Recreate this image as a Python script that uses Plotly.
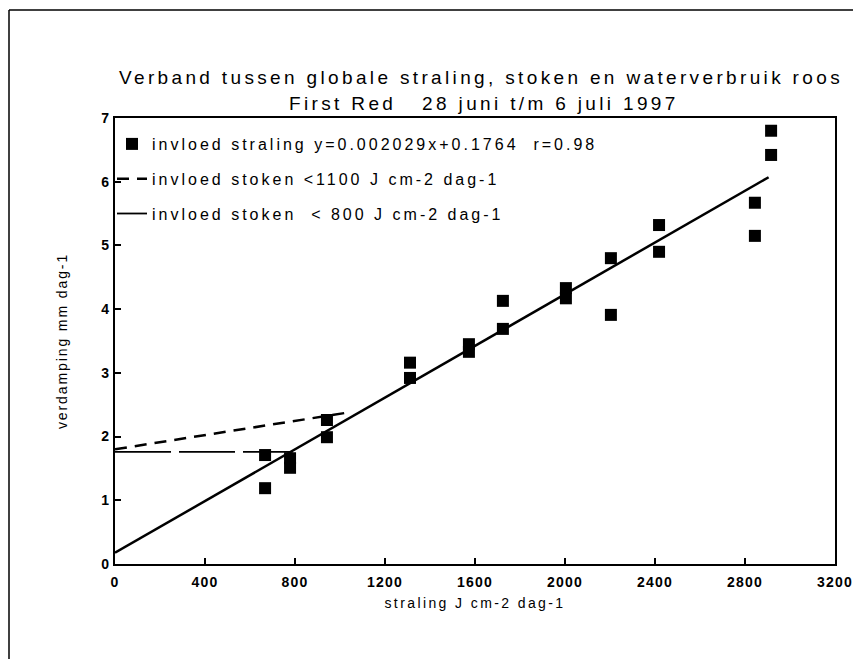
import plotly.graph_objects as go

# Data
straling = [667, 667, 778, 778, 942, 942, 1311, 1311, 1573, 1573, 1724, 1724,
            2004, 2004, 2204, 2204, 2418, 2418, 2844, 2844, 2916, 2916]
verdamping = [1.71, 1.19, 1.66, 1.51, 2.26, 1.99, 3.16, 2.92, 3.45, 3.33, 4.13, 3.69,
              4.33, 4.17, 4.80, 3.91, 5.32, 4.90, 5.67, 5.15, 6.80, 6.42]

slope = 0.002029
intercept = 0.1764
reg_x = [0, 2905]
reg_y = [intercept + slope * v for v in reg_x]

stoken1100_x = [0, 1040]
stoken1100_y = [1.80, 2.38]

stoken800_x = [0, 790]
stoken800_y = [1.76, 1.76]

x_ticks = [0, 400, 800, 1200, 1600, 2000, 2400, 2800, 3200]
y_ticks = [0, 1, 2, 3, 4, 5, 6, 7]

title_1 = "Verband tussen globale straling, stoken en waterverbruik roos"
title_2 = "First Red   28 juni t/m 6 juli 1997"
x_title = "straling J cm-2 dag-1"
y_title = "verdamping mm dag-1"
leg_1 = "invloed straling y=0.002029x+0.1764  r=0.98"
leg_2 = "invloed stoken <1100 J cm-2 dag-1"
leg_3 = "invloed stoken  < 800 J cm-2 dag-1"

FONT = "Liberation Sans, Arial, sans-serif"


def spaced(s, ls):
    s = s.replace("  ", "\u00a0\u00a0").replace("\u00a0 ", "\u00a0\u00a0")
    return '<span style="letter-spacing:%spx">%s</span>' % (ls, s)


fig = go.Figure()

fig.add_trace(go.Scatter(
    x=straling, y=verdamping, mode="markers",
    marker=dict(symbol="square", size=12, color="black"),
    name=spaced(leg_1, 3.0), legendgroup="a",
))
fig.add_trace(go.Scatter(
    x=reg_x, y=reg_y, mode="lines",
    line=dict(color="black", width=2.5),
    showlegend=False, hoverinfo="skip",
))
fig.add_trace(go.Scatter(
    x=stoken1100_x, y=stoken1100_y, mode="lines",
    line=dict(color="black", width=2.5, dash="12px,8px"),
    name=spaced(leg_2, 3.0), legendgroup="b",
))
fig.add_trace(go.Scatter(
    x=stoken800_x, y=stoken800_y, mode="lines",
    line=dict(color="black", width=1.8, dash="56px,8px"),
    name=spaced(leg_3, 3.0), legendgroup="c",
))

# page offset of the plot div (browser body margin)
O = 8
W, H = 845, 651
L, T = 107, 110
R = W - 827
B = H - 556
pw = W - L - R
ph = H - T - B


def px(xr):
    return (xr - O - L) / pw


def py(yr):
    return (H - B - (yr - O)) / ph


fig.update_layout(
    width=W, height=H,
    margin=dict(l=L, r=R, t=T, b=B, autoexpand=False),
    paper_bgcolor="white", plot_bgcolor="white",
    font=dict(family=FONT, color="black", size=12),
    showlegend=True,
    legend=dict(
        x=px(112), y=py(127), xanchor="left", yanchor="top",
        bgcolor="rgba(0,0,0,0)", borderwidth=0,
        font=dict(family=FONT, size=16, color="black"),
        tracegroupgap=11, itemwidth=30,
    ),
    annotations=[
        dict(text=spaced(title_1, 3.35), x=px(481), y=py(77), xref="paper", yref="paper",
             showarrow=False, xanchor="center", yanchor="middle",
             font=dict(family=FONT, size=19)),
        dict(text=spaced(title_2, 3.35), x=px(484), y=py(103), xref="paper", yref="paper",
             showarrow=False, xanchor="center", yanchor="middle",
             font=dict(family=FONT, size=19)),
    ],
    shapes=[
        dict(type="line", xref="paper", yref="paper",
             x0=px(9), x1=px(858), y0=py(10), y1=py(10),
             line=dict(color="black", width=1.5)),
        dict(type="line", xref="paper", yref="paper",
             x0=px(9), x1=px(9), y0=py(10), y1=py(662),
             line=dict(color="black", width=1.5)),
    ],
)

fig.update_xaxes(
    range=[0, 3200], tickvals=x_ticks, ticktext=[spaced(str(v), 1.2) for v in x_ticks],
    automargin=False,
    showgrid=False, zeroline=False,
    showline=True, linecolor="black", linewidth=2, mirror=True,
    ticks="inside", ticklen=6, tickwidth=1.5, tickcolor="black",
    ticklabelstandoff=4,
    tickfont=dict(family=FONT, size=14, weight="bold"),
    title=dict(text=spaced(x_title, 2.4), standoff=9,
               font=dict(family=FONT, size=14)),
)
fig.update_yaxes(
    range=[0, 7], tickvals=y_ticks, ticktext=[spaced(str(v), 1.2) for v in y_ticks],
    automargin=False,
    showgrid=False, zeroline=False,
    showline=True, linecolor="black", linewidth=2, mirror=True,
    ticks="inside", ticklen=6, tickwidth=1.5, tickcolor="black",
    tickfont=dict(family=FONT, size=14, weight="bold"),
    title=dict(text=spaced(y_title, 1.9), standoff=30,
               font=dict(family=FONT, size=14)),
)

fig.write_html("out.html")
